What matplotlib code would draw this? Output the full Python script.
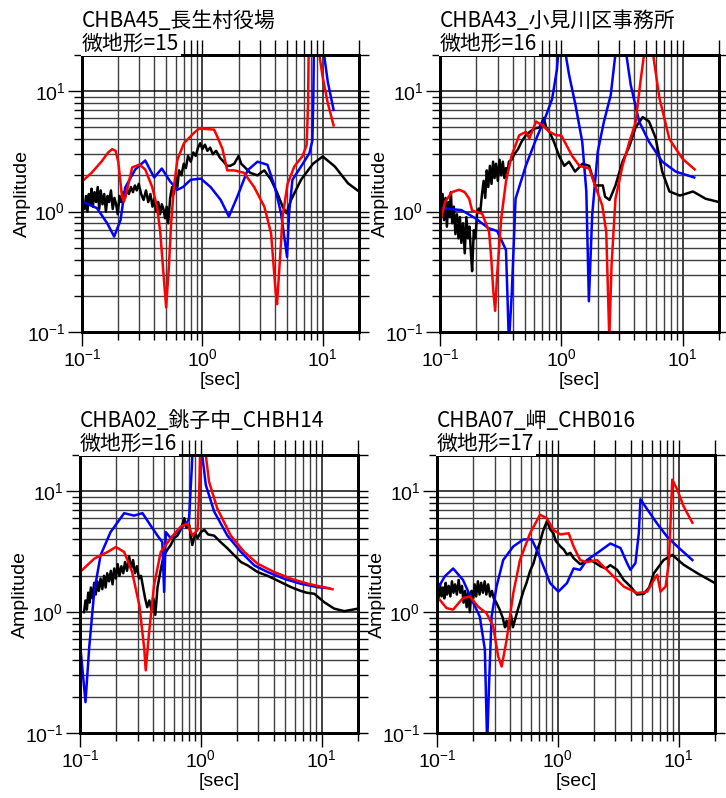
import numpy as np
import matplotlib.pyplot as plt
from matplotlib.ticker import NullFormatter

plt.rcParams['font.family'] = ['Liberation Sans', 'DejaVu Sans']
plt.rcParams['axes.unicode_minus'] = True

# ---- data: (period [s], amplitude) ----
# CHBA45
a45_black = [(0.105, 1.05), (0.108, 1.35), (0.111, 1.0), (0.114, 1.4), (0.117, 1.15), (0.12, 1.55),
             (0.123, 1.1), (0.127, 1.45), (0.131, 1.2), (0.135, 1.6), (0.139, 1.05), (0.143, 1.5),
             (0.148, 1.15), (0.153, 1.4), (0.158, 1.0), (0.163, 1.35), (0.168, 1.2), (0.174, 1.5),
             (0.18, 1.05), (0.186, 1.3), (0.192, 1.15), (0.198, 0.95), (0.205, 1.35), (0.212, 1.2),
             (0.22, 1.45), (0.228, 1.3), (0.236, 1.55), (0.245, 1.4), (0.255, 1.6), (0.265, 1.45),
             (0.275, 1.65), (0.285, 1.5), (0.296, 1.7), (0.31, 1.4), (0.325, 1.25), (0.34, 1.5),
             (0.355, 1.2), (0.37, 1.4), (0.385, 1.1), (0.40, 1.3), (0.415, 1.0), (0.43, 1.2),
             (0.445, 0.95), (0.46, 1.15), (0.475, 1.05), (0.49, 0.88), (0.505, 1.1), (0.52, 0.8),
             (0.54, 1.3), (0.56, 1.6), (0.58, 1.4), (0.60, 1.9), (0.62, 1.6), (0.64, 2.2),
             (0.67, 2.0), (0.70, 2.5), (0.73, 2.3), (0.76, 2.9), (0.80, 2.6), (0.84, 3.1),
             (0.88, 2.9), (0.92, 3.4), (0.96, 3.7), (1.0, 3.3), (1.05, 3.6), (1.1, 3.2),
             (1.16, 3.4), (1.22, 3.0), (1.3, 3.2), (1.4, 2.8), (1.5, 2.6), (1.6, 2.4), (1.7, 2.4),
             (1.84, 2.5), (2.0, 2.9), (2.1, 2.5), (2.22, 2.37), (2.5, 2.1), (2.87, 2.0), (3.05, 2.1),
             (3.27, 2.2), (3.72, 1.84), (4.2, 1.42), (4.64, 1.1), (5.0, 0.97), (5.45, 1.25),
             (6.6, 1.84), (8.3, 2.5), (10.0, 2.87), (12.6, 2.37), (16.2, 1.72), (20.0, 1.47)]
a45_blue = [(0.1, 1.21), (0.133, 1.07), (0.162, 0.8), (0.185, 0.62), (0.209, 0.85), (0.228, 1.58),
            (0.277, 2.24), (0.335, 2.66), (0.37, 2.2), (0.398, 1.92), (0.46, 2.28), (0.54, 1.78),
            (0.62, 1.52), (0.69, 1.6), (0.8, 1.84), (0.97, 1.88), (1.17, 1.6), (1.42, 1.25),
            (1.66, 0.91), (1.95, 1.33), (2.37, 2.2), (2.87, 2.6), (3.47, 2.45), (4.0, 1.6),
            (4.5, 0.97), (5.05, 0.42), (5.25, 0.97), (5.6, 1.84), (6.6, 2.37), (7.75, 3.06),
            (8.2, 3.9), (8.35, 9.0), (8.45, 25), (9.3, 60), (10.2, 21), (11.0, 12), (12.3, 7.0)]
a45_red = [(0.1, 1.78), (0.12, 2.1), (0.145, 2.6), (0.165, 3.1), (0.178, 3.3), (0.19, 3.2),
           (0.2, 2.6), (0.215, 1.33), (0.223, 1.21), (0.24, 1.6), (0.261, 2.33), (0.30, 2.46),
           (0.335, 2.24), (0.383, 1.6), (0.42, 1.1), (0.447, 0.67), (0.47, 0.35), (0.5, 0.16),
           (0.527, 0.35), (0.55, 0.8), (0.58, 1.6), (0.62, 2.7), (0.703, 3.7), (0.85, 4.5),
           (0.94, 4.9), (1.25, 4.8), (1.33, 4.2), (1.47, 3.3), (1.61, 2.2), (1.84, 2.2),
           (2.22, 2.1), (2.69, 1.6), (3.27, 1.1), (3.72, 0.66), (4.07, 0.21), (4.17, 0.17),
           (4.37, 0.35), (4.64, 0.91), (5.1, 1.7), (5.8, 2.37), (6.8, 2.9), (7.35, 3.6),
           (7.55, 8.0), (7.65, 25), (8.4, 60), (9.3, 21), (10.0, 13), (11.0, 8.0), (12.3, 5.2)]

# CHBA43
a43_black = [(0.102, 1.0), (0.105, 1.4), (0.108, 0.85), (0.111, 1.3), (0.114, 0.75), (0.117, 1.2),
             (0.12, 0.9), (0.123, 1.45), (0.126, 0.8), (0.13, 1.1), (0.134, 0.65), (0.138, 0.95),
             (0.142, 0.6), (0.146, 0.9), (0.15, 0.55), (0.155, 0.8), (0.16, 0.45), (0.165, 0.9),
             (0.17, 0.6), (0.175, 0.75), (0.18, 0.45), (0.184, 0.32), (0.19, 0.7), (0.196, 0.6),
             (0.202, 0.95), (0.208, 1.06), (0.215, 1.0), (0.222, 1.4), (0.229, 1.8), (0.236, 1.3),
             (0.243, 2.2), (0.25, 1.6), (0.258, 2.4), (0.266, 1.7), (0.274, 2.6), (0.282, 1.9),
             (0.29, 2.5), (0.30, 1.8), (0.31, 2.7), (0.32, 2.0), (0.33, 2.6), (0.34, 1.9),
             (0.35, 2.3), (0.36, 2.1), (0.37, 2.6), (0.39, 2.7), (0.41, 3.0), (0.44, 3.3),
             (0.47, 3.8), (0.51, 4.3), (0.55, 4.6), (0.6, 4.9), (0.66, 5.0), (0.72, 6.0),
             (0.75, 5.0), (0.8, 4.6), (0.87, 3.8), (0.96, 2.9), (1.06, 2.4), (1.16, 2.6),
             (1.3, 2.15), (1.5, 2.5), (1.7, 2.4), (1.9, 1.65), (2.2, 1.65), (2.3, 1.33),
             (2.5, 1.25), (2.8, 1.65), (3.2, 2.6), (3.65, 3.5), (4.1, 5.0), (4.7, 6.1),
             (5.3, 5.6), (6.0, 4.1), (6.8, 2.15), (7.8, 1.47), (9.5, 1.36), (10.5, 1.4),
             (12.2, 1.47), (15.5, 1.28), (20.0, 1.2)]
a43_blue = [(0.1, 1.07), (0.15, 1.03), (0.196, 0.88), (0.25, 0.73), (0.296, 0.69), (0.35, 0.48),
            (0.36, 0.2), (0.37, 0.08), (0.39, 0.2), (0.42, 1.28), (0.51, 2.4), (0.62, 4.0),
            (0.75, 6.3), (0.84, 8.6), (0.92, 15), (0.96, 25), (1.0, 40), (1.05, 25),
            (1.16, 13.7), (1.31, 7.7), (1.49, 3.8), (1.61, 1.47), (1.69, 0.18), (1.8, 0.94),
            (2.0, 3.15), (2.25, 5.6), (2.56, 9.3), (2.82, 22), (3.1, 40), (3.4, 22),
            (3.74, 11.3), (4.39, 5.6), (5.3, 3.8), (6.8, 2.6), (8.8, 2.15), (12.5, 1.92)]
a43_red = [(0.1, 1.06), (0.103, 0.91), (0.11, 1.2), (0.125, 1.45), (0.144, 1.52), (0.16, 1.45),
           (0.174, 1.28), (0.184, 1.02), (0.223, 0.96), (0.254, 0.68), (0.265, 0.4), (0.275, 0.22),
           (0.285, 0.15), (0.296, 0.3), (0.32, 0.88), (0.35, 1.78), (0.39, 2.93), (0.45, 4.3),
           (0.51, 4.6), (0.545, 4.06), (0.62, 5.6), (0.70, 5.2), (0.80, 4.6), (0.91, 4.3),
           (1.0, 4.3), (1.23, 2.9), (1.41, 2.4), (1.7, 2.28), (1.9, 1.65), (2.18, 1.12),
           (2.35, 0.68), (2.49, 0.09), (2.6, 0.36), (2.8, 1.28), (3.2, 2.4), (3.65, 3.8),
           (4.1, 5.5), (4.5, 12), (4.95, 25), (5.3, 40), (5.65, 22), (6.45, 8.8), (7.8, 4.0),
           (10.0, 2.75), (12.6, 2.24)]

# CHBA02
a02_black = [(0.108, 1.0), (0.111, 1.25), (0.114, 1.05), (0.117, 1.45), (0.12, 1.2), (0.123, 1.6),
             (0.127, 1.3), (0.131, 1.75), (0.135, 1.4), (0.139, 1.8), (0.143, 1.5), (0.148, 1.9),
             (0.153, 1.55), (0.158, 2.0), (0.163, 1.6), (0.168, 2.1), (0.174, 1.8), (0.18, 2.2),
             (0.186, 1.7), (0.192, 2.3), (0.198, 1.9), (0.205, 2.5), (0.212, 2.0), (0.22, 2.4),
             (0.228, 2.1), (0.236, 2.6), (0.245, 2.2), (0.255, 2.9), (0.265, 2.3), (0.275, 2.7),
             (0.285, 2.1), (0.296, 2.4), (0.308, 1.9), (0.32, 2.0), (0.333, 1.6), (0.346, 1.3),
             (0.36, 1.1), (0.375, 1.25), (0.39, 1.05), (0.405, 1.3), (0.42, 0.95), (0.438, 1.6),
             (0.46, 2.1), (0.48, 2.6), (0.5, 3.0), (0.53, 3.3), (0.564, 3.6), (0.6, 4.1),
             (0.64, 4.3), (0.68, 4.8), (0.73, 6.0), (0.76, 5.0), (0.8, 5.3), (0.85, 3.6),
             (0.9, 4.5), (0.94, 4.1), (1.0, 4.6), (1.07, 4.8), (1.15, 4.4), (1.29, 4.3),
             (1.46, 3.8), (1.65, 3.4), (1.89, 2.96), (2.15, 2.6), (2.44, 2.44), (2.95, 2.15),
             (3.57, 2.0), (4.3, 1.83), (5.6, 1.61), (6.7, 1.5), (7.5, 1.45), (8.7, 1.42),
             (10.5, 1.21), (12.7, 1.07), (15.4, 1.02), (20.0, 1.07)]
a02_blue = [(0.1, 0.56), (0.111, 0.18), (0.119, 0.5), (0.131, 1.47), (0.148, 2.96), (0.179, 4.6),
            (0.232, 6.6), (0.28, 6.3), (0.329, 6.6), (0.385, 5.2), (0.438, 4.3), (0.48, 3.8),
            (0.497, 1.47), (0.513, 4.6), (0.564, 4.1), (0.68, 4.9), (0.776, 5.6), (0.80, 6.0),
            (0.84, 15), (0.86, 25), (0.92, 40), (1.0, 25), (1.1, 11.3), (1.29, 6.8), (1.66, 4.3),
            (2.15, 3.15), (2.77, 2.44), (3.57, 2.15), (4.9, 1.89), (6.7, 1.72), (9.3, 1.61),
            (11.5, 1.58)]
a02_red = [(0.1, 2.15), (0.131, 2.77), (0.169, 3.15), (0.198, 3.46), (0.232, 3.15), (0.27, 2.15),
           (0.31, 1.14), (0.34, 0.5), (0.35, 0.33), (0.373, 0.68), (0.41, 1.67), (0.466, 3.15),
           (0.564, 4.1), (0.68, 5.1), (0.776, 5.4), (0.853, 4.3), (0.94, 4.8), (0.97, 10),
           (0.99, 25), (1.03, 40), (1.07, 25), (1.17, 12), (1.37, 7.2), (1.77, 4.3), (2.29, 3.15),
           (2.95, 2.52), (4.05, 2.15), (5.6, 1.89), (7.7, 1.72), (12.3, 1.55)]

# CHBA07
a07_black = [(0.103, 1.3), (0.106, 1.7), (0.109, 1.35), (0.112, 1.6), (0.115, 1.3), (0.118, 1.75),
             (0.121, 1.4), (0.125, 1.65), (0.129, 1.35), (0.133, 1.8), (0.137, 1.45), (0.141, 1.7),
             (0.146, 1.4), (0.151, 1.85), (0.156, 1.45), (0.161, 1.65), (0.166, 1.2), (0.171, 1.5),
             (0.176, 1.1), (0.181, 1.45), (0.187, 1.0), (0.193, 1.5), (0.199, 1.3), (0.205, 1.7),
             (0.211, 1.35), (0.218, 1.8), (0.225, 1.4), (0.232, 1.75), (0.24, 1.45), (0.248, 1.8),
             (0.256, 1.4), (0.265, 1.7), (0.275, 1.35), (0.285, 1.5), (0.295, 1.3), (0.31, 1.2),
             (0.33, 1.05), (0.35, 0.9), (0.365, 0.75), (0.377, 0.85), (0.39, 0.72), (0.41, 0.95),
             (0.425, 0.75), (0.44, 0.85), (0.46, 1.0), (0.486, 1.2), (0.52, 1.5), (0.55, 1.74),
             (0.59, 2.2), (0.63, 2.55), (0.67, 3.2), (0.713, 3.8), (0.75, 4.6), (0.785, 5.2),
             (0.81, 5.6), (0.837, 5.3), (0.87, 4.8), (0.92, 4.5), (0.96, 3.9), (1.05, 3.5),
             (1.12, 3.3), (1.19, 3.0), (1.27, 3.1), (1.35, 2.8), (1.53, 2.5), (1.7, 2.6),
             (1.86, 2.7), (2.0, 2.6), (2.25, 2.4), (2.5, 2.3), (2.72, 2.45), (3.1, 2.24),
             (3.51, 1.85), (4.0, 1.63), (4.53, 1.4), (5.15, 1.42), (5.7, 1.6), (6.24, 2.1),
             (7.5, 2.7), (8.86, 2.98), (11.0, 2.47), (14.3, 2.1), (20.0, 1.74)]
a07_blue = [(0.1, 1.53), (0.116, 1.98), (0.136, 2.3), (0.164, 1.85), (0.2, 1.19), (0.226, 0.92),
            (0.249, 0.49), (0.26, 0.08), (0.27, 0.26), (0.283, 0.92), (0.311, 1.63), (0.353, 2.7),
            (0.428, 3.5), (0.519, 4.0), (0.608, 4.0), (0.668, 3.3), (0.76, 2.4), (0.863, 1.74),
            (1.01, 1.48), (1.19, 1.74), (1.35, 2.3), (1.53, 2.24), (1.74, 2.7), (2.11, 3.08),
            (2.72, 3.7), (3.3, 3.4), (3.74, 2.55), (3.99, 2.24), (4.39, 2.55), (4.68, 4.5),
            (4.83, 8.6), (5.5, 7.1), (6.65, 5.4), (8.05, 4.2), (9.75, 3.5), (13.0, 2.7)]
a07_red = [(0.1, 1.35), (0.12, 1.08), (0.136, 1.05), (0.164, 1.31), (0.187, 1.35), (0.219, 1.11),
           (0.257, 0.98), (0.292, 0.76), (0.321, 0.43), (0.343, 0.355), (0.377, 0.59), (0.428, 1.44),
           (0.486, 2.7), (0.589, 4.5), (0.713, 6.4), (0.81, 6.0), (0.92, 4.8), (1.05, 4.4),
           (1.23, 4.5), (1.35, 3.5), (1.53, 2.7), (1.74, 2.6), (2.11, 2.7), (2.72, 2.1),
           (3.51, 1.63), (4.53, 1.44), (5.5, 1.48), (6.24, 1.85), (6.65, 2.04), (7.08, 1.48),
           (7.8, 1.63), (8.3, 2.55), (8.86, 12.5), (9.75, 10.3), (11.0, 7.5), (13.0, 5.5)]

titles = ['CHBA45_長生村役場', 'CHBA43_小見川区事務所', 'CHBA02_銚子中_CHBH14', 'CHBA07_岬_CHB016']
subtitles = ['微地形=15', '微地形=16', '微地形=16', '微地形=17']
series = [(a45_black, a45_blue, a45_red), (a43_black, a43_blue, a43_red),
          (a02_black, a02_blue, a02_red), (a07_black, a07_blue, a07_red)]

W, H = 726, 798
# axes boxes in pixels: left, top, width, height
boxes = [(82, 55, 277, 277), (440, 55, 279, 277), (80, 455, 278, 278), (437, 455, 278, 278)]

fig = plt.figure(figsize=(W / 100, H / 100), dpi=100)

for i in range(4):
    l, t, w, h = boxes[i]
    ax = fig.add_axes([l / W, 1 - (t + h) / H, w / W, h / H])
    for data, col in zip(series[i], ['black', 'blue', 'red']):
        x, y = zip(*data)
        ax.plot(x, y, color=col, lw=1.8, zorder=3)
    ax.set_xscale('log')
    ax.set_yscale('log')
    ax.set_xlim(0.1, 20)
    ax.set_ylim(0.1, 20)
    ax.grid(which='major', color='0.05', lw=1.1)
    ax.grid(which='minor', color='0.25', lw=1.0)
    ax.tick_params(which='major', direction='out', length=10, width=1.0, pad=2, labelsize=14)
    ax.tick_params(which='minor', direction='out', length=6, width=1.0)
    ax.xaxis.set_minor_formatter(NullFormatter())
    ax.yaxis.set_minor_formatter(NullFormatter())
    for s in ax.spines.values():
        s.set_linewidth(2)

    # long ticks on top, short ticks on the right
    tx = ax.twiny()
    tx.set_xscale('log')
    tx.set_xlim(0.1, 20)
    tx.tick_params(which='both', direction='out', length=11, width=1.0, labeltop=False)
    tx.xaxis.set_minor_formatter(NullFormatter())
    ty = ax.twinx()
    ty.set_yscale('log')
    ty.set_ylim(0.1, 20)
    ty.tick_params(which='both', direction='out', length=7, width=1.0, labelright=False)
    ty.yaxis.set_minor_formatter(NullFormatter())
    for a in (tx, ty):
        for s in a.spines.values():
            s.set_linewidth(2)

    ax.set_xlabel('[sec]', fontsize=14, labelpad=1)
    ax.set_ylabel('Amplitude', fontsize=14, labelpad=-3)

    tfont = ['Noto Sans CJK JP', 'DejaVu Sans']
    fig.text(l / W, 1 - (t - 28) / H, titles[i], family=tfont, fontsize=15, va='baseline')
    fig.text(l / W, 1 - (t - 5) / H, subtitles[i], family=tfont, fontsize=15, va='baseline',
             bbox=dict(facecolor='white', edgecolor='none', pad=1))

fig.savefig('out.png', dpi=100)
